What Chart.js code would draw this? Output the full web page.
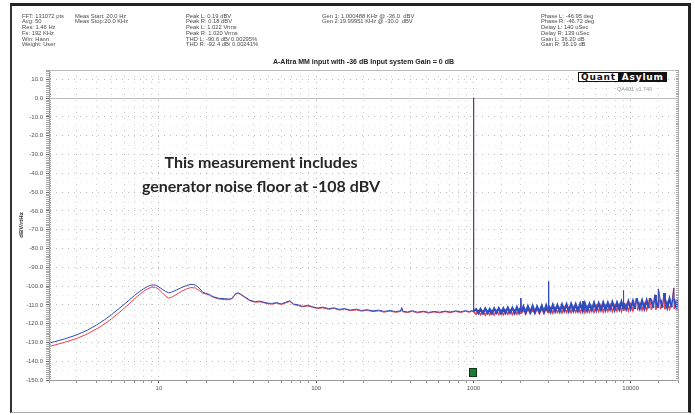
<!DOCTYPE html>
<html>
<head>
<meta charset="utf-8">
<title>A-Altra MM input spectrum</title>
<script src="https://cdn.jsdelivr.net/npm/chart.js@4.4.1/dist/chart.umd.min.js"></script>
<style>
  body { margin: 0; background: #fff; font-family: "Liberation Sans", Arial, sans-serif; }
  #wrap { position: relative; width: 695px; height: 415px; overflow: hidden; }
  #frame { position: absolute; left: 10px; top: 3px; width: 681px; height: 410px; box-sizing: border-box;
           border-top: 3px solid #222; border-left: 2px solid #333; border-right: 3px solid #222; border-bottom: 1px solid #aaa; }
  #spectrum { position: absolute; left: 0; top: 0; }
  .info { position: absolute; top: 13.5px; font-size: 5.8px; line-height: 5.8px; color: #4a4a4a; white-space: pre; }
  #plotTitle { position: absolute; left: 49px; width: 629px; top: 58px; text-align: center; font-size: 7px; font-weight: bold; color: #222; }
  #note { position: absolute; left: 111px; width: 300px; top: 150px; text-align: center; font-family: Lato, "Liberation Sans", sans-serif;
          font-weight: bold; font-size: 16px; line-height: 24px; color: #262626; }
  #logo { position: absolute; left: 578px; top: 72px; font-family: "DejaVu Sans", sans-serif; font-weight: bold; font-size: 9px; line-height: 8px; }
  #logo span { display: inline-block; padding: 0 2px; letter-spacing: 0.8px; }
  #logo .q { border: 1px solid #111; background: #fff; color: #111; }
  #logo .a { border: 1px solid #111; background: #111; color: #fff; }
  #version { position: absolute; left: 617px; top: 86px; font-size: 5.5px; color: #9a9a9a; }
</style>
</head>
<body>
<div id="wrap">
  <div id="frame"></div>
  <canvas id="spectrum" width="695" height="415"></canvas>
  <div class="info" style="left:22px">FFT: 131072 pts
Avg: 50
Res: 1.46 Hz
Fs: 192 KHz
Win: Hann
Weight: User</div>
  <div class="info" style="left:75px">Meas Start: 20.0 Hz
Meas Stop:20.0 KHz</div>
  <div class="info" style="left:186px">Peak L: 0.19 dBV
Peak R: 0.18 dBV
Peak L: 1.022 Vrms
Peak R: 1.020 Vrms
THD L: -90.6 dB/ 0.00295%
THD R: -92.4 dB/ 0.00241%</div>
  <div class="info" style="left:322px">Gen 1: 1.000488 KHz @ -36.0  dBV
Gen 2:19.99951 KHz @ -30.0  dBV</div>
  <div class="info" style="left:541px">Phase L: -46.95 deg
Phase R: -46.72 deg
Delay L: 140 uSec
Delay R: 139 uSec
Gain L: 36.20 dB
Gain R: 36.19 dB</div>
  <div id="plotTitle">A-Altra MM input with -36 dB Input system Gain = 0 dB</div>
  <div id="note">This measurement includes<br>generator noise floor at -108 dBV</div>
  <div id="logo"><span class="q">Quant</span><span class="a">Asylum</span></div>
  <div id="version">QA401 v1.740</div>
</div>
<script>
// frequency bins (Hz), shared by both channels
const freqHz = [
  2, 2.5, 3, 3.5, 4, 4.5, 5, 5.5, 6, 6.5,
  7, 7.5, 8, 8.5, 9, 9.5, 10, 10.5, 11, 11.5,
  12, 13, 14, 15, 16, 17, 18, 19, 20, 21,
  22, 24, 26, 28, 29, 30, 31, 32, 33, 35,
  38, 41, 44, 48, 52, 56, 60, 64, 68, 72,
  77, 82, 88, 95, 102, 110, 120, 130, 140, 152,
  165, 180, 195, 210, 230, 250, 270, 295, 320, 345,
  350, 355, 380, 410, 440, 480, 520, 560, 610, 660,
  710, 770, 830, 890, 940, 980, 995, 1000, 1005, 1040,
  1075, 1110, 1150, 1190, 1230, 1270, 1310, 1355, 1400, 1450,
  1500, 1550, 1600, 1655, 1710, 1770, 1830, 1890, 1950, 1985,
  2000, 2015, 2080, 2150, 2220, 2300, 2380, 2460, 2540, 2630,
  2720, 2810, 2900, 2985, 3000, 3015, 3100, 3200, 3310, 3420,
  3540, 3660, 3780, 3910, 4040, 4180, 4320, 4470, 4620, 4780,
  4940, 4990, 5000, 5010, 5120, 5290, 5470, 5660, 5850, 6050,
  6260, 6470, 6690, 6920, 7160, 7400, 7650, 7910, 8180, 8460,
  8740, 8980, 9000, 9020, 9350, 9670, 10000, 10340, 10690, 10900,
  11050, 11430, 11820, 12220, 12640, 13070, 13200, 13510, 13970, 14300,
  14450, 14940, 15000, 15450, 15980, 16300, 16520, 17080, 17660, 18260,
  18800, 18880, 19500, 20000
];

// blue trace (dBV/rtHz)
const levelBlue = [
  -130.4, -128.2, -126.0, -123.5, -120.8, -118.0, -115.2, -112.4, -109.8, -107.3,
  -105.0, -103.0, -101.4, -100.2, -99.4, -99.5, -100.5, -101.7, -102.8, -103.6,
  -103.3, -102.0, -100.7, -99.7, -99.1, -99.4, -101.0, -103.3, -104.0, -104.5,
  -105.6, -106.5, -106.7, -106.9, -106.6, -105.0, -103.9, -103.6, -104.2, -105.6,
  -107.6, -108.3, -108.0, -108.9, -109.3, -108.8, -109.5, -108.6, -107.8, -109.6,
  -110.0, -110.8, -110.2, -111.0, -111.7, -111.2, -112.0, -111.6, -112.4, -112.0,
  -112.8, -112.3, -113.0, -112.6, -113.2, -112.8, -113.5, -113.0, -113.6, -113.2,
  -111.4, -113.3, -113.8, -113.1, -113.9, -113.4, -114.0, -113.5, -113.9, -113.3,
  -113.8, -113.2, -113.7, -113.1, -113.6, -113.0, -113.4, 0.2, -113.3, -112.3,
  -114.4, -112.2, -114.5, -112.0, -114.3, -112.3, -114.6, -111.9, -114.2, -111.8,
  -114.5, -111.9, -114.3, -111.5, -114.2, -111.6, -114.4, -111.3, -114.1, -111.6,
  -106.4, -113.9, -110.9, -114.1, -110.8, -113.9, -110.6, -114.0, -110.9, -113.6,
  -110.5, -113.8, -110.3, -113.5, -97.6, -110.4, -113.6, -110.0, -113.4, -110.2,
  -113.5, -109.9, -113.2, -109.8, -113.4, -109.6, -113.1, -109.7, -113.2, -109.4,
  -112.9, -109.6, -108.0, -113.0, -109.3, -113.1, -109.5, -112.8, -109.0, -112.9,
  -109.2, -112.6, -108.8, -112.7, -109.0, -112.4, -108.6, -112.6, -108.8, -112.3,
  -108.4, -112.2, -102.4, -108.9, -112.3, -108.2, -112.1, -108.0, -112.2, -106.4,
  -108.1, -111.9, -107.8, -112.0, -107.7, -111.8, -106.4, -107.5, -111.7, -104.7,
  -107.3, -111.6, -101.5, -107.2, -111.5, -103.8, -107.0, -111.4, -106.8, -111.3,
  -101.0, -106.9, -111.3, -106.8
];

// red trace (dBV/rtHz)
const levelRed = [
  -132.2, -130.0, -127.9, -125.5, -122.9, -120.2, -117.4, -114.6, -111.9, -109.3,
  -106.8, -104.6, -102.8, -101.4, -100.6, -100.6, -101.8, -103.5, -105.2, -106.4,
  -106.0, -104.4, -102.7, -101.5, -100.8, -101.0, -102.3, -103.8, -104.3, -104.9,
  -105.9, -106.9, -107.2, -107.3, -106.9, -105.4, -104.2, -103.9, -104.5, -105.9,
  -107.9, -108.6, -108.4, -109.2, -109.7, -109.1, -109.8, -109.0, -108.2, -109.9,
  -110.4, -111.1, -110.6, -111.3, -112.0, -111.6, -112.4, -111.9, -112.8, -112.3,
  -113.1, -112.7, -113.4, -112.9, -113.6, -113.2, -113.9, -113.3, -114.0, -113.5,
  -111.8, -113.7, -114.1, -113.5, -114.3, -113.7, -114.4, -113.8, -114.3, -113.6,
  -114.2, -113.5, -114.1, -113.4, -114.0, -113.3, -113.8, 0.2, -113.6, -115.0,
  -113.2, -115.3, -113.3, -115.5, -113.4, -115.2, -113.1, -115.4, -113.2, -115.1,
  -112.9, -115.3, -113.0, -115.0, -112.8, -115.2, -112.9, -114.9, -112.7, -114.8,
  -106.4, -114.7, -112.4, -114.9, -112.2, -114.6, -112.5, -114.5, -112.0, -114.7,
  -112.2, -114.3, -111.9, -114.4, -97.6, -114.2, -111.8, -114.4, -111.6, -114.1,
  -111.7, -114.2, -111.3, -114.0, -111.5, -114.1, -111.2, -113.9, -111.4, -114.0,
  -110.9, -113.8, -108.0, -111.2, -114.0, -110.8, -113.8, -110.6, -113.9, -110.5,
  -113.6, -110.3, -113.7, -110.4, -113.4, -110.0, -113.5, -110.2, -113.3, -109.8,
  -113.4, -110.0, -102.4, -113.2, -109.7, -113.2, -109.5, -113.0, -109.6, -106.4,
  -112.9, -109.3, -112.8, -109.4, -112.7, -109.1, -106.4, -112.6, -109.2, -104.7,
  -112.5, -109.0, -101.5, -112.4, -108.9, -103.8, -112.3, -108.7, -112.2, -108.8,
  -101.0, -112.1, -108.6, -111.9
];

const xLabelValues = [10, 100, 1000, 10000];
const xMin = 2, xMax = 20000;
const yMin = -150, yMax = 15;
const fundamentalHz = 1000;

const toPoints = values => values.map((v, i) => ({ x: freqHz[i], y: v }));
const isDecade = v => Math.abs(Math.log10(v) - Math.round(Math.log10(v))) < 1e-9;
const tickOf = c => (c.tick ? Math.abs(c.tick.value) : 1);

// above the fundamental the dense FFT bins merge into a thick band; spikes stay thin
const bandWidth = wide => ctx => {
  if (freqHz[ctx.p0DataIndex] < fundamentalHz) return 1;
  return Math.abs(ctx.p1.y - ctx.p0.y) > 9 ? 1 : wide;
};

// light box around the plot, dense ticks on the edges, marker at the fundamental
const plotDecor = {
  id: 'plotDecor',
  afterDatasetsDraw(chart) {
    const { ctx, chartArea: a, scales } = chart;
    ctx.save();
    ctx.strokeStyle = '#bdbdbd';
    ctx.lineWidth = 1;
    ctx.beginPath();
    ctx.moveTo(a.left, a.top + 0.5);
    ctx.lineTo(a.right + 0.5, a.top + 0.5);
    ctx.lineTo(a.right + 0.5, a.bottom);
    ctx.stroke();
    ctx.strokeStyle = '#a8a8a8';
    for (let v = yMin; v <= yMax; v++) {
      const y = Math.round(scales.y.getPixelForValue(v)) + 0.5;
      ctx.beginPath();
      ctx.moveTo(a.right - 2, y);
      ctx.lineTo(a.right + 1, y);
      ctx.stroke();
      ctx.beginPath();
      ctx.moveTo(a.left, y);
      ctx.lineTo(a.left + 2, y);
      ctx.stroke();
    }
    const mx = Math.round(scales.x.getPixelForValue(fundamentalHz));
    const my = Math.round(scales.y.getPixelForValue(-146));
    ctx.fillStyle = '#1f7a36';
    ctx.fillRect(mx - 4, my - 4, 8, 9);
    ctx.strokeStyle = '#0b3818';
    ctx.strokeRect(mx - 3.5, my - 3.5, 7, 8);
    ctx.restore();
  }
};

new Chart(document.getElementById('spectrum'), {
  type: 'line',
  data: {
    datasets: [{
      label: 'Blue',
      data: toPoints(levelBlue),
      borderColor: '#2d4cc0',
      borderWidth: 1,
      pointRadius: 0,
      tension: 0,
      segment: { borderWidth: bandWidth(2.2) }
    }, {
      label: 'Red',
      data: toPoints(levelRed),
      borderColor: '#e8404a',
      borderWidth: 1,
      pointRadius: 0,
      tension: 0,
      segment: { borderWidth: bandWidth(1.6) }
    }]
  },
  options: {
    responsive: false,
    animation: false,
    devicePixelRatio: 1,
    layout: { padding: { left: 10, right: 17, top: 70, bottom: 11 } },
    plugins: {
      legend: { display: false },
      tooltip: { enabled: false },
      title: { display: false }
    },
    scales: {
      x: {
        type: 'logarithmic',
        min: xMin,
        max: xMax,
        afterFit: s => { s.height = 24; },
        ticks: {
          autoSkip: false,
          maxRotation: 0,
          padding: 2,
          color: '#555',
          font: { size: 6, family: 'Liberation Sans' },
          callback: v => (xLabelValues.includes(v) ? String(v) : '')
        },
        grid: {
          color: c => (c.tick && isDecade(c.tick.value) ? '#b4b4b4' : '#cdcdcd'),
          tickLength: 3,
          tickColor: c => (c.tick && isDecade(c.tick.value) ? '#555' : '#999')
        },
        border: { color: '#999', dash: [1, 5] }
      },
      y: {
        min: yMin,
        max: yMax,
        afterFit: s => { s.width = 39; },
        ticks: {
          stepSize: 1,
          autoSkip: false,
          maxTicksLimit: 400,
          padding: 3,
          color: '#555',
          font: { size: 6, family: 'Liberation Sans' },
          callback: v => (Math.abs(v) % 10 === 0 ? v.toFixed(1) : '')
        },
        grid: {
          color: c => (tickOf(c) % 10 === 0 ? '#bdbdbd' : (tickOf(c) % 5 === 0 ? '#e4e4e4' : 'rgba(0,0,0,0)')),
          tickLength: 3,
          tickColor: c => (tickOf(c) % 10 === 0 ? '#666' : '#a8a8a8')
        },
        border: { color: '#999', dash: c => (c.tick && c.tick.value === 0 ? [] : [1, 5]) },
        title: {
          display: true,
          text: 'dBV/rtHz',
          color: '#333',
          font: { size: 6, weight: 'bold', family: 'Liberation Sans' },
          padding: { top: 8, bottom: 0 }
        }
      }
    }
  },
  plugins: [plotDecor]
});
</script>
</body>
</html>
